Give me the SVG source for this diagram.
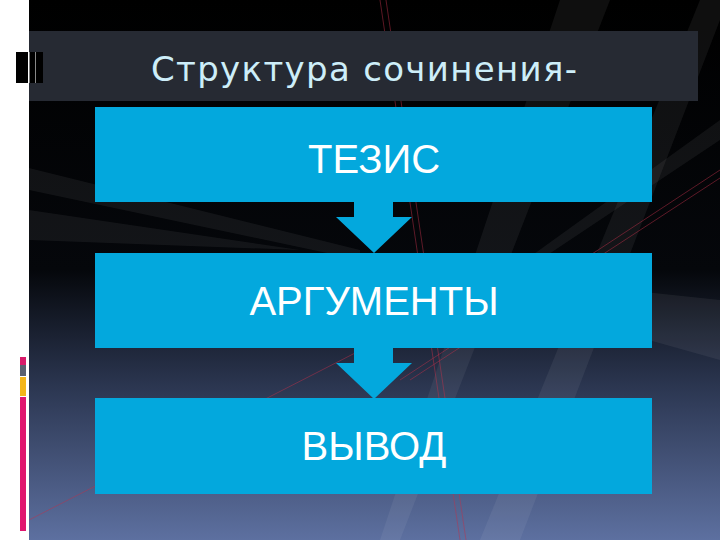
<svg xmlns="http://www.w3.org/2000/svg" width="720" height="540" viewBox="0 0 720 540">
<defs>
<linearGradient id="bg" x1="0" y1="0" x2="0" y2="1">
<stop offset="0" stop-color="#000000"/>
<stop offset="0.5" stop-color="#05070b"/>
<stop offset="0.72" stop-color="#2c3752"/>
<stop offset="1" stop-color="#5d70a0"/>
</linearGradient>
<style>
.box{fill:#03a8dd}
.arr{fill:#03a8dd}
.lbl{font-family:"Liberation Sans",Arial,sans-serif;font-size:40px;fill:#ffffff;text-anchor:middle}
.streak{fill:#ffffff;opacity:0.06}
.red{stroke:#c0304a;stroke-width:0.8;opacity:0.6;fill:none}
</style>
</defs>
<rect x="0" y="0" width="720" height="540" fill="#ffffff"/>
<rect x="29" y="0" width="691" height="540" fill="url(#bg)"/>
<g id="background">
<polygon class="streak" points="560,0 610,0 400,540 380,540"/>
<polygon class="streak" points="700,0 720,0 720,20 520,540 480,540"/>
<polygon class="streak" points="720,300 720,360 400,270 420,268"/>
<polygon class="streak" points="29,168 29,190 360,260 360,250"/>
<polygon class="streak" points="29,210 29,240 300,250"/>
<polygon class="streak" points="720,120 720,140 480,300 470,300"/>
<line class="red" x1="380" y1="0" x2="460" y2="540"/>
<line class="red" x1="386" y1="0" x2="466" y2="540"/>
<line class="red" x1="720" y1="170" x2="400" y2="380"/>
<line class="red" x1="720" y1="178" x2="410" y2="380"/>
<line class="red" x1="29" y1="520" x2="400" y2="330"/>
</g>
<rect x="29" y="31" width="669" height="70" fill="#262a33"/>
<g id="deco">
<rect x="16" y="52" width="27" height="31" fill="#000000"/>
<rect x="28" y="52" width="1.5" height="31" fill="#ffffff"/>
<rect x="35" y="52" width="1" height="31" fill="#888888"/>
<rect x="20" y="357" width="6" height="8" fill="#d81b6a"/>
<rect x="20" y="365" width="6" height="11" fill="#5a6070"/>
<rect x="20" y="377" width="6" height="19" fill="#f3b51a"/>
<rect x="20" y="397" width="6" height="134" fill="#e0166f"/>
</g>
<g id="title">
<text x="151" y="81" font-family="'DejaVu Sans','Open Sans',sans-serif" font-size="34" fill="#cdeef9" textLength="426" lengthAdjust="spacing">Структура сочинения-</text>
</g>
<g id="connectors">
<polygon class="arr" points="354,202 393,202 393,217 412,217 374,253 336,217 354,217"/>
<polygon class="arr" points="354,348 393,348 393,363 412,363 374,399 336,363 354,363"/>
</g>
<g id="node-thesis">
<rect class="box" x="95" y="107" width="557" height="95"/>
<text class="lbl" x="374" y="173">ТЕЗИС</text>
</g>
<g id="node-arguments">
<rect class="box" x="95" y="253" width="557" height="95"/>
<text class="lbl" x="374" y="315">АРГУМЕНТЫ</text>
</g>
<g id="node-conclusion">
<rect class="box" x="95" y="398" width="557" height="96"/>
<text class="lbl" x="374" y="460">ВЫВОД</text>
</g>
</svg>
